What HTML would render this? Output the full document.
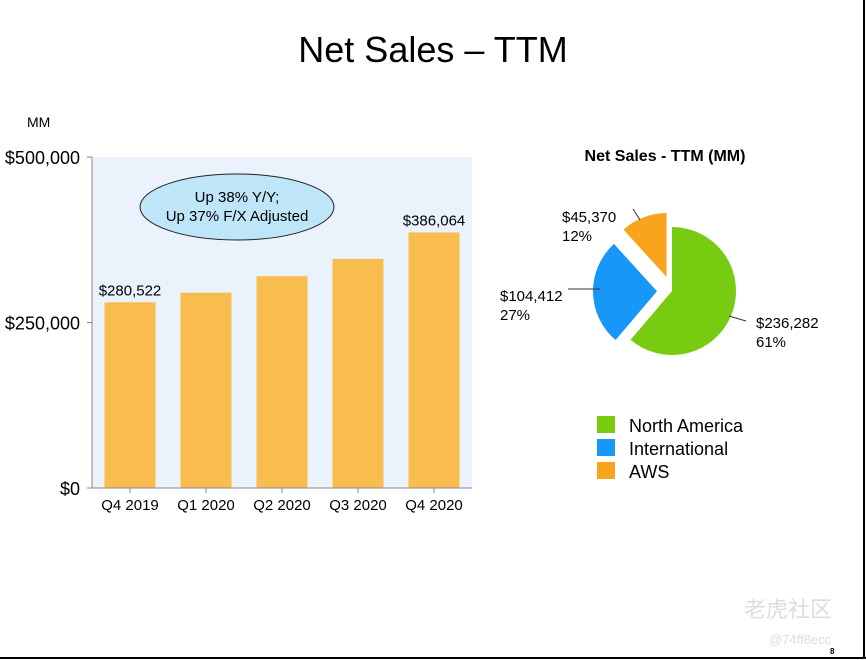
<!DOCTYPE html>
<html><head><meta charset="utf-8">
<style>
body{margin:0;background:#fff;}
#root{position:relative;width:866px;height:660px;overflow:hidden;background:#fff;font-family:"Liberation Sans",Arial,sans-serif;}
</style></head>
<body>
<div id="root">
<svg id="svg" width="866" height="660" xmlns="http://www.w3.org/2000/svg" font-family="Liberation Sans, Arial, sans-serif">
  <rect x="0" y="0" width="866" height="660" fill="#fff"/>
  <line x1="864" y1="0" x2="864" y2="658" stroke="#000" stroke-width="2"/>
  <line x1="0" y1="658" x2="866" y2="658" stroke="#000" stroke-width="2"/>
  <text x="433" y="62" font-size="36" text-anchor="middle" fill="#000">Net Sales – TTM</text>
  <text x="27" y="127" font-size="14" fill="#000">MM</text>
  <rect x="92" y="157" width="380" height="331" fill="#eaf2fc"/>
  <g id="bars"></g>
  <ellipse cx="237" cy="207" rx="97" ry="33" fill="#bfe6f8" stroke="#222" stroke-width="1"/>
  <text x="237" y="202" font-size="15" text-anchor="middle" fill="#000">Up 38% Y/Y;</text>
  <text x="237" y="221" font-size="15" text-anchor="middle" fill="#000">Up 37% F/X Adjusted</text>
  <text x="665" y="161" font-size="16" font-weight="bold" text-anchor="middle" fill="#000">Net Sales - TTM (MM)</text>
  <g id="pie"></g>
  <g id="legend"></g>
  <text x="788" y="617" font-size="22" fill="#ddd" text-anchor="middle" font-family="Noto Sans CJK SC, sans-serif">老虎社区</text>
  <text x="800" y="644" font-size="13" fill="#ddd" text-anchor="middle">@74ff8ecc</text>
  <text x="830" y="654" font-size="8" font-weight="bold" fill="#000">8</text>
</svg>
</div>
<script>
const categories = ["Q4 2019","Q1 2020","Q2 2020","Q3 2020","Q4 2020"];
const salesValues = [280522, 295000, 320000, 346000, 386064];
const barLabels = ["$280,522", "", "", "", "$386,064"];
const yTicks = [0, 250000, 500000];
const yTickLabels = ["$0", "$250,000", "$500,000"];
const pieNames = ["North America","International","AWS"];
const pieValues = [236282, 104412, 45370];
const pieValueLabels = ["$236,282","$104,412","$45,370"];
const piePctLabels = ["61%","27%","12%"];
const pieColors = ["#77cc11","#1797f7","#f8a51d"];

const NS = "http://www.w3.org/2000/svg";
function mk(tag, attrs, parent){const e=document.createElementNS(NS,tag);for(const k in attrs)e.setAttribute(k,attrs[k]);parent.appendChild(e);return e;}
const X0=92, X1=472, Y0=488, Y1=157, YMAX=500000;
const y = v => Y0 - v/YMAX*(Y0-Y1);
const band = (X1-X0)/categories.length;
const xc = i => X0 + band*(i+0.5);
const bars = document.getElementById('bars');

yTicks.forEach((t,i)=>{
  const tk = mk('line',{x1:X0-5,x2:X0,y1:y(t),y2:y(t),stroke:'#888'},bars);
  
  
  const lb = mk('text',{x:X0-12,y:y(t)+7,'font-size':18,'text-anchor':'end',fill:'#000'},bars);
  lb.textContent = yTickLabels[i];
  
  
});
salesValues.forEach((v,i)=>{
  const r = mk('rect',{x:xc(i)-25.5,y:y(v),width:51,height:Y0-y(v),fill:'#f8bd4e'},bars);
  
  
  const tk = mk('line',{x1:xc(i),x2:xc(i),y1:Y0,y2:Y0+5,stroke:'#888'},bars);
  
  
  const lb = mk('text',{x:xc(i),y:Y0+22,'font-size':15,'text-anchor':'middle',fill:'#000'},bars);
  lb.textContent = categories[i];
  
  
  if(barLabels[i]){
    const vl = mk('text',{x:xc(i),y:y(v)-7,'font-size':15,'text-anchor':'middle',fill:'#000'},bars);
    vl.textContent = barLabels[i];
    
    
  }
});
const ax = mk('line',{x1:X0,x2:X0,y1:Y1,y2:Y0,stroke:'#888'},bars);


const bx = mk('line',{x1:X0,x2:X1,y1:Y0,y2:Y0,stroke:'#888'},bars);



// pie
const pie = document.getElementById('pie');
const CX=672, CY=291, R=64;
const explode=[0,15,15];
const total = pieValues.reduce((a,b)=>a+b,0);
const labelPos=[[756,328,'start',[[729,316],[746,321]]],[500,301,'start',[[568,289],[600,289]]],[562,222,'start',[[633,209],[640,220]]]];
let a0=0;
pieValues.forEach((v,i)=>{
  const a1=a0+v/total*2*Math.PI, am=(a0+a1)/2;
  const cx=CX+explode[i]*Math.sin(am), cy=CY-explode[i]*Math.cos(am);
  const p=(a)=>[cx+R*Math.sin(a), cy-R*Math.cos(a)];
  const [sx,sy]=p(a0),[ex,ey]=p(a1);
  const large=(a1-a0)>Math.PI?1:0;
  const s = mk('path',{d:`M${cx},${cy} L${sx},${sy} A${R},${R} 0 ${large} 1 ${ex},${ey} Z`,fill:pieColors[i]},pie);
  
  
  const lp=labelPos[i];
  const ln = mk('line',{x1:lp[3][0][0],y1:lp[3][0][1],x2:lp[3][1][0],y2:lp[3][1][1],stroke:'#333'},pie);
  
  
  const t1 = mk('text',{x:lp[0],y:lp[1],'font-size':15,fill:'#000'},pie);
  t1.textContent=pieValueLabels[i];
  
  
  const t2 = mk('text',{x:lp[0],y:lp[1]+19,'font-size':15,fill:'#000'},pie);
  t2.textContent=piePctLabels[i];
  
  
  a0=a1;
});
// legend
const lg=document.getElementById('legend');
pieNames.forEach((n,i)=>{
  const sq = mk('rect',{x:597,y:416+i*23,width:18,height:17,fill:pieColors[i]},lg);
  
  
  const t = mk('text',{x:629,y:432+i*23,'font-size':18,fill:'#000'},lg);
  t.textContent=n;
  
  
});
</script>
</body></html>
